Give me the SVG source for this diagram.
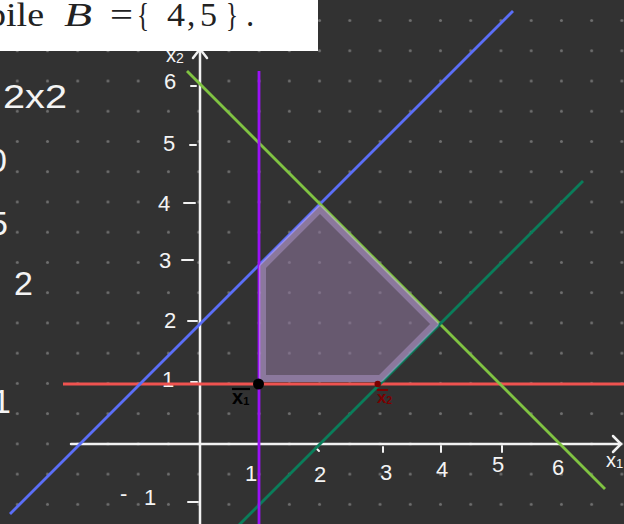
<svg xmlns="http://www.w3.org/2000/svg" width="624" height="524" viewBox="0 0 624 524">
<style>
.hw{font-family:"Liberation Sans","DejaVu Sans",sans-serif;fill:#f4f4f4}
.ax{stroke:#f2f2f2;stroke-width:2.5;fill:none;stroke-linecap:round}
.tk{stroke:#f2f2f2;stroke-width:2;fill:none;stroke-linecap:round}
.ln{fill:none;stroke-width:2.8;stroke-linecap:butt}
.tex{font-family:"Liberation Serif","DejaVu Serif",serif;font-size:33px;fill:#222}
</style>
<defs>
<pattern id="dots" x="2.185" y="5.38" width="30.23" height="30.24" patternUnits="userSpaceOnUse">
<circle cx="15.115" cy="15.12" r="1.5" fill="#6f6f6f"/>
</pattern>
</defs>
<rect width="624" height="524" fill="#323232"/>
<rect width="624" height="524" fill="url(#dots)"/>

<g id="left-notes">
<text class="hw" x="3" y="108" font-size="34" textLength="64" lengthAdjust="spacingAndGlyphs">2x2</text>
<text class="hw" x="-12" y="172" font-size="34">0</text>
<text class="hw" x="-11" y="235" font-size="34">5</text>
<text class="hw" x="14" y="295" font-size="34">2</text>
<text class="hw" x="-8" y="413" font-size="34">1</text>
</g>

<g id="axes">
<line class="ax" x1="200" y1="49" x2="200" y2="524"/>
<polyline class="ax" points="193,58 200,49 207,58"/>
<line class="ax" x1="71" y1="444" x2="621" y2="444"/>
<polyline class="ax" points="613,436 621,444 613,452"/>
<g id="y-ticks">
<line class="tk" x1="191" y1="86" x2="196" y2="86"/>
<line class="tk" x1="190" y1="145" x2="196" y2="145"/>
<line class="tk" x1="184" y1="203" x2="195" y2="203"/>
<line class="tk" x1="182" y1="260" x2="193" y2="260"/>
<line class="tk" x1="188" y1="321" x2="197" y2="321"/>
<line class="tk" x1="191" y1="382" x2="197" y2="382"/>
<line class="tk" x1="188" y1="502" x2="198" y2="502"/>
</g>
<g id="x-ticks">
<line class="tk" x1="259" y1="447" x2="259" y2="452"/>
<polyline class="tk" points="319,445 316,448 319,451"/>
<line class="tk" x1="383" y1="447" x2="383" y2="452"/>
<line class="tk" x1="441" y1="446" x2="441" y2="452"/>
<line class="tk" x1="502" y1="446" x2="502" y2="452"/>
</g>
<g id="y-labels" class="hw" font-size="22">
<text x="164" y="89">6</text>
<text x="163" y="151">5</text>
<text x="158" y="211">4</text>
<text x="159" y="268">3</text>
<text x="164" y="328">2</text>
<text x="162" y="387">1</text>
<text x="120" y="501">-</text>
<text x="144" y="505">1</text>
<text x="166" y="62" font-size="20">x<tspan font-size="14" dy="1">2</tspan></text>
</g>
<g id="x-labels" class="hw" font-size="22">
<text x="245" y="481">1</text>
<text x="314" y="482">2</text>
<text x="380" y="480">3</text>
<text x="436" y="477">4</text>
<text x="492" y="472">5</text>
<text x="552" y="475">6</text>
<text x="606" y="467" font-size="20">x<tspan font-size="13" dy="1">1</tspan></text>
</g>
</g>

<g id="connectors">
<line class="ln" x1="63" y1="384" x2="624" y2="384" stroke="#ef5350"/>
<line class="ln" x1="10" y1="514" x2="513" y2="11" stroke="#5b6ef7"/>
<line class="ln" x1="187" y1="71" x2="605" y2="489" stroke="#80c342"/>
<line class="ln" x1="238" y1="526" x2="583" y2="181" stroke="#0a7d5a"/>
<line class="ln" x1="259" y1="71" x2="259" y2="524" stroke="#9b12f5" stroke-width="3"/>
</g>

<g id="feasible-region" opacity="0.6">
<polygon points="262.5,266.45 320,208.95 435.05,324 380.55,378.5 262.5,378.5" fill="#8b7499" stroke="#c7a8e5" stroke-width="7" stroke-linejoin="round"/>
</g>

<g id="point-x1">
<circle cx="258.5" cy="384" r="5.5" fill="#000"/>
<line x1="232" y1="389" x2="250" y2="389" stroke="#000" stroke-width="2.2"/>
<text x="232" y="404" font-family="Liberation Sans, sans-serif" font-size="20" font-weight="bold" fill="#000">x<tspan font-size="11" dy="1">1</tspan></text>
</g>
<g id="point-x2">
<circle cx="377.7" cy="384" r="3.2" fill="#7a0000"/>
<line x1="377" y1="390" x2="388" y2="390" stroke="#7a0000" stroke-width="2"/>
<text x="377" y="403" font-family="Liberation Sans, sans-serif" font-size="17" font-weight="bold" fill="#7a0000">x<tspan font-size="10" dy="1">2</tspan></text>
</g>

<g id="header">
<rect x="0" y="0" width="318" height="51" fill="#ffffff"/>
<text class="tex" x="-13" y="26" textLength="57" lengthAdjust="spacingAndGlyphs">bile</text>
<text class="tex" x="64" y="26" font-style="italic" textLength="28" lengthAdjust="spacingAndGlyphs">B</text>
<text class="tex" x="110" y="26" textLength="23" lengthAdjust="spacingAndGlyphs">=</text>
<text class="tex" x="137" y="26" textLength="12" lengthAdjust="spacingAndGlyphs">{</text>
<text class="tex" x="167" y="26" textLength="18" lengthAdjust="spacingAndGlyphs">4</text>
<text class="tex" x="187" y="26">,</text>
<text class="tex" x="200" y="26" textLength="17" lengthAdjust="spacingAndGlyphs">5</text>
<text class="tex" x="226" y="26" textLength="12" lengthAdjust="spacingAndGlyphs">}</text>
<text class="tex" x="246" y="26">.</text>
</g>
</svg>
